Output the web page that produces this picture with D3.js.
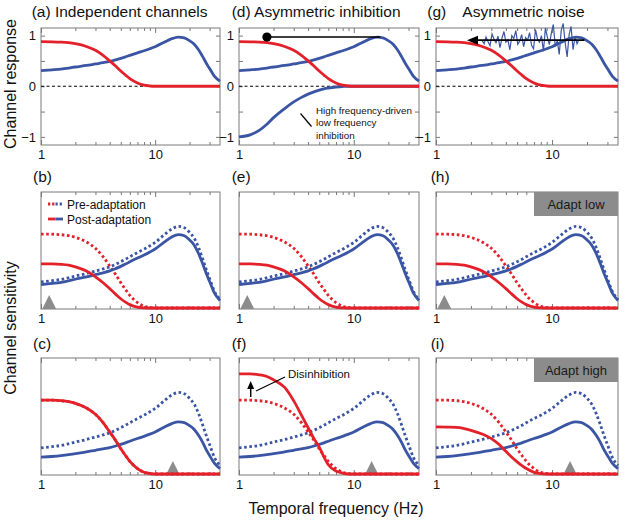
<!DOCTYPE html>
<html><head><meta charset="utf-8">
<script src="https://cdn.jsdelivr.net/npm/d3@7"></script>
<style>body{margin:0;background:#fff}svg{display:block}</style>
</head><body><svg id="c" width="626" height="520"></svg>
<script>
// ---------- data ----------
const freq = [1,1.25,1.5,1.75,2,2.5,3,3.5,4,4.5,5,5.5,6,7,8,9,10,12,14,16,18,20,22,24,26,28,30,33,37];
const lowPre   = [0.88,0.878,0.872,0.86,0.84,0.785,0.71,0.61,0.5,0.4,0.3,0.22,0.15,0.065,0.02,0.005,0,0,0,0,0,0,0,0,0,0,0,0,0];
const highPre  = [0.31,0.325,0.34,0.36,0.38,0.41,0.44,0.465,0.49,0.52,0.55,0.58,0.61,0.66,0.7,0.74,0.78,0.87,0.94,0.97,0.955,0.9,0.83,0.72,0.59,0.46,0.35,0.2,0.1];
const inhibition = [-1.0,-0.96,-0.87,-0.75,-0.62,-0.44,-0.31,-0.22,-0.155,-0.11,-0.075,-0.05,-0.035,-0.015,-0.005,0,0,0,0,0,0,0,0,0,0,0,0,0,0];
const lowPostAdaptLow  = [0.525,0.524,0.52,0.51,0.49,0.44,0.37,0.3,0.23,0.165,0.11,0.07,0.04,0.01,0.002,0,0,0,0,0,0,0,0,0,0,0,0,0,0];
const highPostAdaptLow = [0.279,0.293,0.306,0.324,0.342,0.369,0.396,0.419,0.441,0.468,0.495,0.522,0.549,0.594,0.63,0.666,0.702,0.783,0.846,0.873,0.86,0.81,0.747,0.648,0.531,0.414,0.315,0.18,0.09];
const highPostAdaptHigh= [0.2,0.208,0.218,0.23,0.243,0.262,0.282,0.298,0.314,0.333,0.352,0.371,0.39,0.422,0.448,0.474,0.5,0.557,0.6,0.62,0.612,0.576,0.53,0.46,0.38,0.29,0.22,0.13,0.065];
const lowPostDisinhib  = [1.19,1.19,1.18,1.16,1.12,1.03,0.87,0.7,0.55,0.42,0.32,0.2,0.11,0.035,0.01,0,0,0,0,0,0,0,0,0,0,0,0,0,0];
const lowPostNoise     = [0.56,0.558,0.555,0.54,0.52,0.475,0.42,0.35,0.27,0.2,0.145,0.1,0.065,0.02,0.005,0,0,0,0,0,0,0,0,0,0,0,0,0,0];
const noiseFreq = [2.50,2.60,2.70,2.81,2.92,3.04,3.16,3.29,3.42,3.56,3.70,3.85,4.00,4.16,4.33,4.50,4.68,4.87,5.06,5.26,5.47,5.69,5.92,6.16,6.40,6.66,6.93,7.20,7.49,7.79,8.10,8.43,8.76,9.11,9.48,9.86,10.25,10.66,11.09,11.53,11.99,12.47,12.97,13.49,14.03,14.59,15.17,15.78,16.41,17.0];
const noiseVal  = [0.90,0.84,0.97,0.88,0.80,1.03,0.93,0.86,0.99,0.76,0.95,1.08,0.87,0.92,0.72,1.00,0.94,1.10,0.83,0.89,1.02,0.78,0.96,0.91,1.06,0.81,0.74,1.12,0.93,0.87,1.00,0.69,1.15,0.97,0.82,1.05,1.22,0.79,0.90,0.63,1.10,1.24,0.86,0.58,1.02,1.18,0.72,0.98,0.84,0.92];
const inhibLink = [1.75, 17, 0.97];   // dot freq, end freq, level
const noiseArrow = [19, 1.85, 0.91];  // from freq, to freq, level
const adaptFreq = [1.18, 14.3];       // adapt low, adapt high
const xMajor = [1,10];
const xMinor = [2,3,4,5,6,7,8,9,20,30];
const yRespTicks = [-1,-0.5,0,0.5,1];
const yRespLabels = [-1,0,1];

// ---------- layout ----------
const FONT = '"Liberation Sans", Arial, Helvetica, sans-serif';
const RED = "#e3212a", BLUE = "#3b55a5";
const svg = d3.select("#c");
const cols = [{l:41,w:179},{l:239,w:180},{l:436,w:182}];
const rows = [{t:28,h:117},{t:192,h:117},{t:358,h:117}];

function makePanel(c, r){
  const C = cols[c], R = rows[r], b = R.t + R.h;
  const x = d3.scaleLog().domain([1,37]).range([C.l, C.l + C.w]);
  const y = d3.scaleLinear().domain(r === 0 ? [-1.16,1.15] : [-0.012,1.38]).range([b, R.t]);
  const g = svg.append("g");
  const tick = (gen, tr, vals, size) => {
    const a = g.append("g").attr("transform", tr).call(gen.tickValues(vals).tickSize(size).tickFormat(""));
    a.select(".domain").remove();
    a.selectAll("line").attr("stroke","#555").attr("stroke-width",0.8);
  };
  tick(d3.axisBottom(x), `translate(0,${b})`, xMinor, -3);
  tick(d3.axisBottom(x), `translate(0,${b})`, xMajor, -5);
  tick(d3.axisTop(x), `translate(0,${R.t})`, xMinor, -3);
  tick(d3.axisTop(x), `translate(0,${R.t})`, xMajor, -5);
  const lab = g.append("g").attr("transform", `translate(0,${b})`)
    .call(d3.axisBottom(x).tickValues(xMajor).tickSize(0).tickPadding(5).tickFormat(d3.format("d")));
  lab.select(".domain").remove();
  lab.selectAll("text").attr("font-size",13).attr("font-family",FONT).attr("fill","#111");
  if (r === 0){
    tick(d3.axisLeft(y), `translate(${C.l},0)`, yRespTicks, -4);
    tick(d3.axisRight(y), `translate(${C.l + C.w},0)`, yRespTicks, -4);
    const yl = g.append("g").attr("transform", `translate(${C.l},0)`)
      .call(d3.axisLeft(y).tickValues(yRespLabels).tickSize(0).tickPadding(5).tickFormat(d => d < 0 ? "\u22121" : String(d)));
    yl.select(".domain").remove();
    yl.selectAll("text").attr("font-size",13).attr("font-family",FONT).attr("fill","#111");
  }
  g.append("rect").attr("x",C.l).attr("y",R.t).attr("width",C.w).attr("height",R.h)
    .attr("fill","none").attr("stroke","#7a7a7a").attr("stroke-width",1);
  return {x, y, g, C, R, b};
}

function curve(p, vals, color, dotted, width){
  const line = d3.line().x((d,i) => p.x(freq[i])).y(d => p.y(d)).curve(d3.curveMonotoneX);
  p.g.append("path").attr("d", line(vals)).attr("fill","none").attr("stroke",color)
    .attr("stroke-width", width || 2.8).attr("stroke-dasharray", dotted ? "2.6,2.6" : null);
}
function zeroLine(p){
  p.g.append("line").attr("x1",p.C.l).attr("x2",p.C.l+p.C.w).attr("y1",p.y(0)).attr("y2",p.y(0))
    .attr("stroke","#000").attr("stroke-width",1).attr("stroke-dasharray","3,2.5");
}
function triangle(p, f){
  const cx = p.x(f);
  p.g.append("path").attr("d",`M${cx-7},${p.b}L${cx},${p.b-14}L${cx+7},${p.b}Z`).attr("fill","#8c8c8c");
}
function adaptBox(p, txt){
  const x0 = p.C.l + p.C.w - 84, h = 24;
  p.g.append("rect").attr("x",x0).attr("y",p.R.t).attr("width",84).attr("height",h).attr("fill","#8c8c8c");
  p.g.append("text").attr("x",x0+42).attr("y",p.R.t+h/2+4.5).attr("text-anchor","middle")
    .attr("font-family",FONT).attr("font-size",13).attr("fill","#1a1a1a").text(txt);
}
function txt(x, y, s, size, extra){
  const t = svg.append("text").attr("x",x).attr("y",y).attr("font-family",FONT).attr("font-size",size).attr("fill","#111").text(s);
  if (extra) extra(t);
  return t;
}

// ---------- row 1 ----------
const pa = makePanel(0,0);
zeroLine(pa); curve(pa, highPre, BLUE); curve(pa, lowPre, RED);

const pd = makePanel(1,0);
zeroLine(pd); curve(pd, inhibition, BLUE); curve(pd, highPre, BLUE); curve(pd, lowPre, RED);
pd.g.append("line").attr("x1",pd.x(inhibLink[0])).attr("x2",pd.x(inhibLink[1]))
  .attr("y1",pd.y(inhibLink[2])).attr("y2",pd.y(inhibLink[2])).attr("stroke","#000").attr("stroke-width",1.5);
pd.g.append("circle").attr("cx",pd.x(inhibLink[0])).attr("cy",pd.y(inhibLink[2])).attr("r",4.6).attr("fill","#000");
pd.g.append("line").attr("x1",300.5).attr("y1",113.5).attr("x2",311.5).attr("y2",126.5).attr("stroke","#000").attr("stroke-width",1.2);
["High frequency-driven","low frequency","inhibition"].forEach((s,i) => txt(316, 113.5 + i*12.5, s, 9.8));

const pg = makePanel(2,0);
zeroLine(pg); curve(pg, highPre, BLUE); curve(pg, lowPre, RED);
pg.g.append("path").attr("d", d3.line().x((d,i) => pg.x(noiseFreq[i])).y(d => pg.y(d))(noiseVal))
  .attr("fill","none").attr("stroke",BLUE).attr("stroke-width",1.2);
{
  const x1 = pg.x(noiseArrow[0]), x2 = pg.x(noiseArrow[1]), yy = pg.y(noiseArrow[2]);
  pg.g.append("line").attr("x1",x1).attr("x2",x2+10).attr("y1",yy).attr("y2",yy).attr("stroke","#000").attr("stroke-width",1.6);
  pg.g.append("path").attr("d",`M${x2},${yy}L${x2+11},${yy-4.5}L${x2+11},${yy+4.5}Z`).attr("fill","#000");
}

// ---------- row 2 ----------
[0,1,2].forEach(c => {
  const p = makePanel(c,1);
  triangle(p, adaptFreq[0]);
  curve(p, highPre, BLUE, true); curve(p, lowPre, RED, true);
  curve(p, highPostAdaptLow, BLUE); curve(p, lowPostAdaptLow, RED);
  if (c === 0){
    const L = p.g.append("g");
    [[204,true],[219,false]].forEach(([yy,dot]) => {
      L.append("line").attr("x1",48).attr("x2",55.5).attr("y1",yy).attr("y2",yy).attr("stroke",RED).attr("stroke-width",2.8).attr("stroke-dasharray",dot?"2.2,2":null);
      L.append("line").attr("x1",55.5).attr("x2",63).attr("y1",yy).attr("y2",yy).attr("stroke",BLUE).attr("stroke-width",2.8).attr("stroke-dasharray",dot?"2.2,2":null);
    });
    txt(67, 208.5, "Pre-adaptation", 12);
    txt(67, 223.5, "Post-adaptation", 12);
  }
  if (c === 2) adaptBox(p, "Adapt low");
});

// ---------- row 3 ----------
const pc = makePanel(0,2);
triangle(pc, adaptFreq[1]);
curve(pc, highPre, BLUE, true); curve(pc, lowPre, RED, true);
curve(pc, highPostAdaptHigh, BLUE); curve(pc, lowPre, RED);

const pf = makePanel(1,2);
triangle(pf, adaptFreq[1]);
curve(pf, highPre, BLUE, true); curve(pf, lowPre, RED, true);
curve(pf, highPostAdaptHigh, BLUE); curve(pf, lowPostDisinhib, RED);
pf.g.append("line").attr("x1",250.7).attr("x2",250.7).attr("y1",397).attr("y2",388).attr("stroke","#000").attr("stroke-width",1.5);
pf.g.append("path").attr("d","M250.7,381L247.2,389L254.2,389Z").attr("fill","#000");
pf.g.append("line").attr("x1",256).attr("y1",391).attr("x2",285).attr("y2",377).attr("stroke","#000").attr("stroke-width",1.1);
txt(288, 378, "Disinhibition", 11.5);

const pi = makePanel(2,2);
triangle(pi, adaptFreq[1]);
curve(pi, highPre, BLUE, true); curve(pi, lowPre, RED, true);
curve(pi, highPostAdaptHigh, BLUE); curve(pi, lowPostNoise, RED);
adaptBox(pi, "Adapt high");

// ---------- titles & labels ----------
txt(31.7, 16.5, "(a) Independent channels", 15.5);
txt(231.7, 16.5, "(d) Asymmetric inhibition", 15.5);
txt(427.3, 16.5, "(g)", 15.5);
txt(462.3, 16.5, "Asymmetric noise", 15.5);
[["(b)",33,182],["(e)",231.7,182],["(h)",430.7,182],["(c)",33,349],["(f)",231.7,349],["(i)",430.7,349]]
  .forEach(([s,x,y]) => txt(x, y, s, 15.5));
txt(0, 0, "Channel response", 16, t => t.attr("text-anchor","middle").attr("transform","translate(15.5,84) rotate(-90)"));
txt(0, 0, "Channel sensitivity", 16, t => t.attr("text-anchor","middle").attr("transform","translate(15.5,328) rotate(-90)"));
txt(336, 514, "Temporal frequency (Hz)", 16, t => t.attr("text-anchor","middle"));
</script></body></html>
